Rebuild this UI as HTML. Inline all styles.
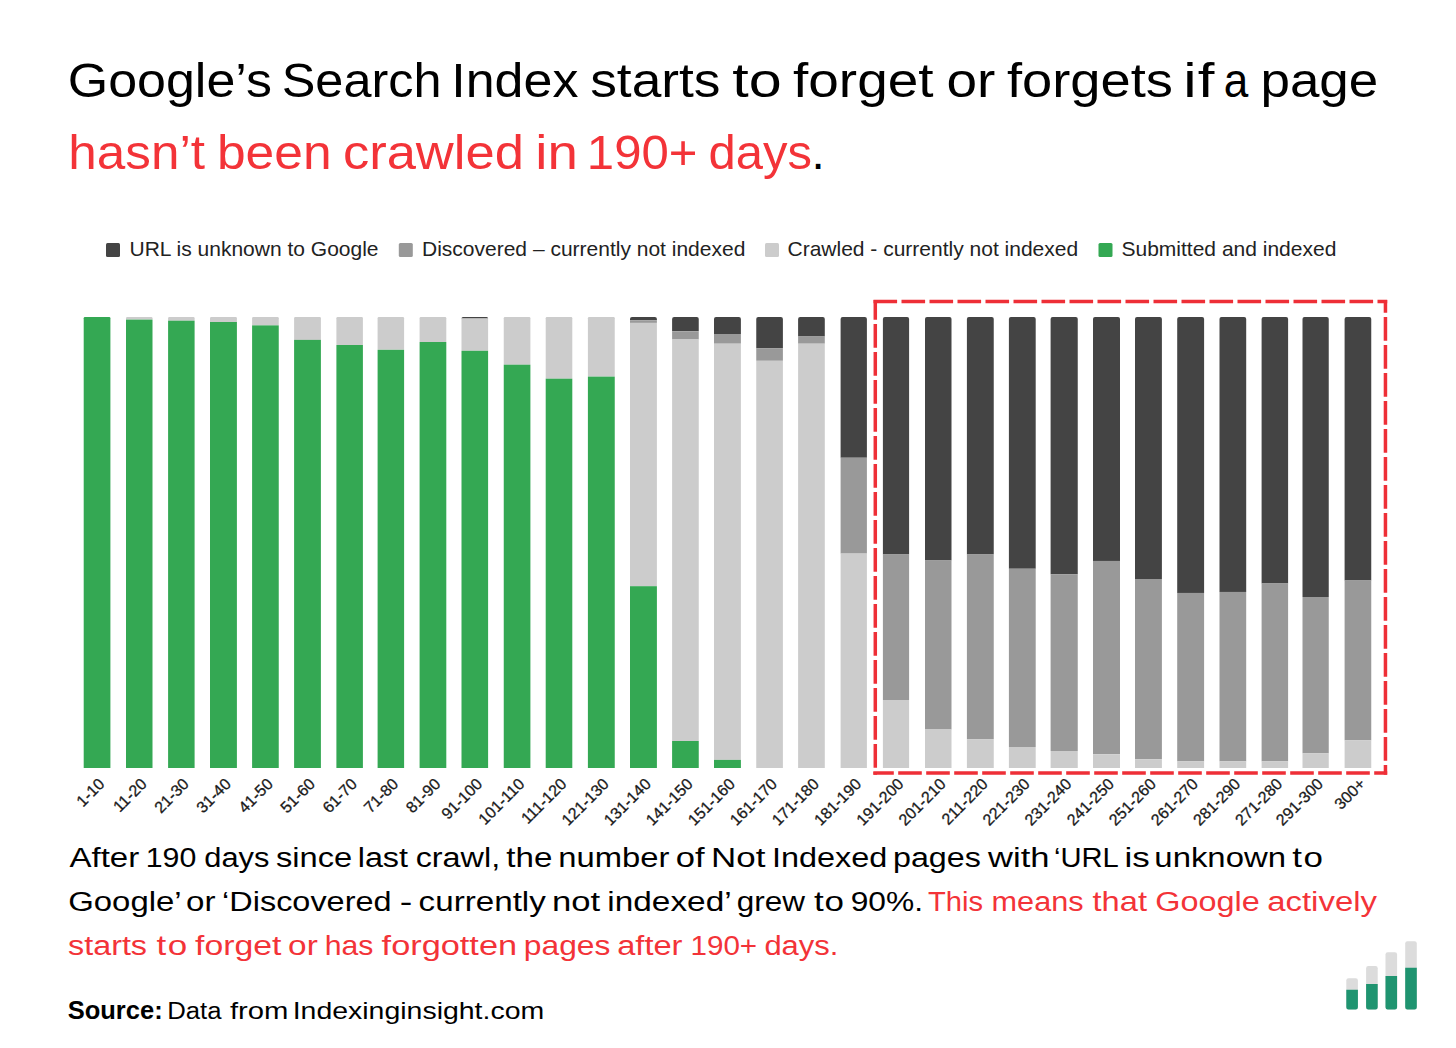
<!DOCTYPE html>
<html><head><meta charset="utf-8">
<style>
html,body{margin:0;padding:0;background:#fff;}
body{width:1456px;height:1048px;overflow:hidden;position:relative;}
svg{position:absolute;left:0;top:0;}
text{font-family:"Liberation Sans",Arial,sans-serif;}
</style></head><body>
<svg width="1456" height="1048" viewBox="0 0 1456 1048">
<g fill="#000">
<text transform="translate(67.73 0) scale(1.083 1)" x="0" y="97.2" font-size="48">Google’s</text>
<text transform="translate(281.70 0) scale(1.051 1)" x="0" y="97.2" font-size="48">Search</text>
<text transform="translate(451.27 0) scale(1.083 1)" x="0" y="97.2" font-size="48">Index</text>
<text transform="translate(590.18 0) scale(1.111 1)" x="0" y="97.2" font-size="48">starts</text>
<text transform="translate(732.36 0) scale(1.235 1)" x="0" y="97.2" font-size="48">to</text>
<text transform="translate(793.05 0) scale(1.145 1)" x="0" y="97.2" font-size="48">forget</text>
<text transform="translate(946.41 0) scale(1.145 1)" x="0" y="97.2" font-size="48">or</text>
<text transform="translate(1006.97 0) scale(1.131 1)" x="0" y="97.2" font-size="48">forgets</text>
<text transform="translate(1183.35 0) scale(1.250 1)" x="0" y="97.2" font-size="48" letter-spacing="0.76">if</text>
<text transform="translate(1223.86 0) scale(0.920 1)" x="0" y="97.2" font-size="48">a</text>
<text transform="translate(1260.49 0) scale(1.103 1)" x="0" y="97.2" font-size="48">page</text>
<text transform="translate(68.26 0) scale(1.079 1)" x="0" y="169" font-size="47.5" fill="#f33338">hasn’t</text>
<text transform="translate(216.94 0) scale(1.085 1)" x="0" y="169" font-size="47.5" fill="#f33338">been</text>
<text transform="translate(342.89 0) scale(1.106 1)" x="0" y="169" font-size="47.5" fill="#f33338">crawled</text>
<text transform="translate(535.35 0) scale(1.152 1)" x="0" y="169" font-size="47.5" fill="#f33338">in</text>
<text transform="translate(586.87 0) scale(1.034 1)" x="0" y="169" font-size="47.5" fill="#f33338">190+</text>
<text transform="translate(708.44 0) scale(1.031 1)" x="0" y="169" font-size="47.5" fill="#f33338">days</text>
<text x="811.5" y="169" font-size="47.5">.</text>
<text transform="translate(69.40 0) scale(1.181 1)" x="0" y="867" font-size="28">After</text>
<text transform="translate(145.63 0) scale(1.084 1)" x="0" y="867" font-size="28">190</text>
<text transform="translate(204.30 0) scale(1.102 1)" x="0" y="867" font-size="28">days</text>
<text transform="translate(275.93 0) scale(1.167 1)" x="0" y="867" font-size="28">since</text>
<text transform="translate(357.69 0) scale(1.156 1)" x="0" y="867" font-size="28">last</text>
<text transform="translate(415.64 0) scale(1.156 1)" x="0" y="867" font-size="28">crawl,</text>
<text transform="translate(506.30 0) scale(1.184 1)" x="0" y="867" font-size="28">the</text>
<text transform="translate(558.36 0) scale(1.170 1)" x="0" y="867" font-size="28">number</text>
<text transform="translate(675.76 0) scale(1.236 1)" x="0" y="867" font-size="28">of</text>
<text transform="translate(711.10 0) scale(1.249 1)" x="0" y="867" font-size="28">Not</text>
<text transform="translate(771.92 0) scale(1.159 1)" x="0" y="867" font-size="28">Indexed</text>
<text transform="translate(893.00 0) scale(1.152 1)" x="0" y="867" font-size="28">pages</text>
<text transform="translate(988.10 0) scale(1.235 1)" x="0" y="867" font-size="28">with</text>
<text transform="translate(1054.02 0) scale(1.042 1)" x="0" y="867" font-size="28">‘URL</text>
<text transform="translate(1124.50 0) scale(1.250 1)" x="0" y="867" font-size="28" letter-spacing="0.04">is</text>
<text transform="translate(1154.35 0) scale(1.175 1)" x="0" y="867" font-size="28">unknown</text>
<text transform="translate(1292.20 0) scale(1.250 1)" x="0" y="867" font-size="28" letter-spacing="1.36">to</text>
<text transform="translate(68.22 0) scale(1.176 1)" x="0" y="911" font-size="28">Google’</text>
<text transform="translate(186.12 0) scale(1.183 1)" x="0" y="911" font-size="28">or</text>
<text transform="translate(222.08 0) scale(1.159 1)" x="0" y="911" font-size="28">‘Discovered</text>
<text transform="translate(399.86 0) scale(1.343 1)" x="0" y="911" font-size="28">-</text>
<text transform="translate(418.62 0) scale(1.185 1)" x="0" y="911" font-size="28">currently</text>
<text transform="translate(552.02 0) scale(1.238 1)" x="0" y="911" font-size="28">not</text>
<text transform="translate(607.32 0) scale(1.192 1)" x="0" y="911" font-size="28">indexed’</text>
<text transform="translate(736.67 0) scale(1.125 1)" x="0" y="911" font-size="28">grew</text>
<text transform="translate(814.00 0) scale(1.250 1)" x="0" y="911" font-size="28" letter-spacing="0.72">to</text>
<text transform="translate(850.67 0) scale(1.133 1)" x="0" y="911" font-size="28">90%.</text>
<text transform="translate(927.96 0) scale(1.041 1)" x="0" y="911" font-size="28" fill="#f33338">This</text>
<text transform="translate(991.61 0) scale(1.094 1)" x="0" y="911" font-size="28" fill="#f33338">means</text>
<text transform="translate(1092.50 0) scale(1.166 1)" x="0" y="911" font-size="28" fill="#f33338">that</text>
<text transform="translate(1155.34 0) scale(1.157 1)" x="0" y="911" font-size="28" fill="#f33338">Google</text>
<text transform="translate(1267.22 0) scale(1.176 1)" x="0" y="911" font-size="28" fill="#f33338">actively</text>
<text transform="translate(68.05 0) scale(1.154 1)" x="0" y="955" font-size="28" fill="#f33338">starts</text>
<text transform="translate(156.60 0) scale(1.250 1)" x="0" y="955" font-size="28" fill="#f33338" letter-spacing="1.12">to</text>
<text transform="translate(195.00 0) scale(1.207 1)" x="0" y="955" font-size="28" fill="#f33338">forget</text>
<text transform="translate(288.11 0) scale(1.191 1)" x="0" y="955" font-size="28" fill="#f33338">or</text>
<text transform="translate(324.64 0) scale(1.079 1)" x="0" y="955" font-size="28" fill="#f33338">has</text>
<text transform="translate(381.60 0) scale(1.226 1)" x="0" y="955" font-size="28" fill="#f33338">forgotten</text>
<text transform="translate(523.83 0) scale(1.134 1)" x="0" y="955" font-size="28" fill="#f33338">pages</text>
<text transform="translate(617.23 0) scale(1.165 1)" x="0" y="955" font-size="28" fill="#f33338">after</text>
<text transform="translate(690.49 0) scale(1.057 1)" x="0" y="955" font-size="28" fill="#f33338">190+</text>
<text transform="translate(764.39 0) scale(1.106 1)" x="0" y="955" font-size="28" fill="#f33338">days.</text>
<text x="67.70" y="1019" font-size="25.5" font-weight="bold">Source:</text>
<text transform="translate(167.20 0) scale(1.050 1)" x="0" y="1019" font-size="24.5">Data</text>
<text transform="translate(230.00 0) scale(1.194 1)" x="0" y="1019" font-size="24.5">from</text>
<text transform="translate(292.68 0) scale(1.162 1)" x="0" y="1019" font-size="24.5">Indexinginsight.com</text>
</g>
<g font-size="21" fill="#222">
<rect x="106" y="243" width="14" height="14" rx="1.5" fill="#444444"/>
<text x="129.5" y="256.3">URL is unknown to Google</text>
<rect x="398.8" y="243" width="14" height="14" rx="1.5" fill="#999999"/>
<text x="422" y="256.3">Discovered – currently not indexed</text>
<rect x="765" y="243" width="14" height="14" rx="1.5" fill="#cccccc"/>
<text x="787.5" y="256.3">Crawled - currently not indexed</text>
<rect x="1098.5" y="243" width="14" height="14" rx="1.5" fill="#34a853"/>
<text x="1121.5" y="256.3">Submitted and indexed</text>
</g>
<g>
<path d="M83.70 768.00 V318.20 Q83.70 317.00 84.90 317.00 H109.20 Q110.40 317.00 110.40 318.20 V768.00 Z" fill="#34a853"/>
<path d="M126.00 319.60 V318.20 Q126.00 317.00 127.20 317.00 H151.30 Q152.50 317.00 152.50 318.20 V319.60 Z" fill="#cccccc"/>
<rect x="126.00" y="319.60" width="26.50" height="448.40" fill="#34a853"/>
<path d="M168.10 320.70 V318.20 Q168.10 317.00 169.30 317.00 H193.40 Q194.60 317.00 194.60 318.20 V320.70 Z" fill="#cccccc"/>
<rect x="168.10" y="320.70" width="26.50" height="447.30" fill="#34a853"/>
<path d="M210.00 322.00 V318.20 Q210.00 317.00 211.20 317.00 H235.70 Q236.90 317.00 236.90 318.20 V322.00 Z" fill="#cccccc"/>
<rect x="210.00" y="322.00" width="26.90" height="446.00" fill="#34a853"/>
<path d="M252.10 325.40 V318.20 Q252.10 317.00 253.30 317.00 H277.55 Q278.75 317.00 278.75 318.20 V325.40 Z" fill="#cccccc"/>
<rect x="252.10" y="325.40" width="26.65" height="442.60" fill="#34a853"/>
<path d="M294.10 339.90 V318.20 Q294.10 317.00 295.30 317.00 H319.70 Q320.90 317.00 320.90 318.20 V339.90 Z" fill="#cccccc"/>
<rect x="294.10" y="339.90" width="26.80" height="428.10" fill="#34a853"/>
<path d="M336.40 345.00 V318.20 Q336.40 317.00 337.60 317.00 H361.70 Q362.90 317.00 362.90 318.20 V345.00 Z" fill="#cccccc"/>
<rect x="336.40" y="345.00" width="26.50" height="423.00" fill="#34a853"/>
<path d="M377.60 349.80 V318.20 Q377.60 317.00 378.80 317.00 H402.90 Q404.10 317.00 404.10 318.20 V349.80 Z" fill="#cccccc"/>
<rect x="377.60" y="349.80" width="26.50" height="418.20" fill="#34a853"/>
<path d="M419.60 342.00 V318.20 Q419.60 317.00 420.80 317.00 H445.10 Q446.30 317.00 446.30 318.20 V342.00 Z" fill="#cccccc"/>
<rect x="419.60" y="342.00" width="26.70" height="426.00" fill="#34a853"/>
<path d="M461.50 318.50 V318.50 Q461.50 317.00 463.00 317.00 H486.60 Q488.10 317.00 488.10 318.50 V318.50 Z" fill="#444444"/>
<rect x="461.50" y="318.50" width="26.60" height="32.30" fill="#cccccc"/>
<rect x="461.50" y="350.80" width="26.60" height="417.20" fill="#34a853"/>
<path d="M503.75 364.70 V318.20 Q503.75 317.00 504.95 317.00 H529.20 Q530.40 317.00 530.40 318.20 V364.70 Z" fill="#cccccc"/>
<rect x="503.75" y="364.70" width="26.65" height="403.30" fill="#34a853"/>
<path d="M545.70 378.70 V318.20 Q545.70 317.00 546.90 317.00 H571.10 Q572.30 317.00 572.30 318.20 V378.70 Z" fill="#cccccc"/>
<rect x="545.70" y="378.70" width="26.60" height="389.30" fill="#34a853"/>
<path d="M587.90 376.60 V318.20 Q587.90 317.00 589.10 317.00 H613.55 Q614.75 317.00 614.75 318.20 V376.60 Z" fill="#cccccc"/>
<rect x="587.90" y="376.60" width="26.85" height="391.40" fill="#34a853"/>
<path d="M630.00 320.30 V319.00 Q630.00 317.00 632.00 317.00 H654.90 Q656.90 317.00 656.90 319.00 V320.30 Z" fill="#444444"/>
<rect x="630.00" y="320.30" width="26.90" height="2.60" fill="#999999"/>
<rect x="630.00" y="322.90" width="26.90" height="263.30" fill="#cccccc"/>
<rect x="630.00" y="586.20" width="26.90" height="181.80" fill="#34a853"/>
<path d="M672.10 331.30 V319.00 Q672.10 317.00 674.10 317.00 H696.75 Q698.75 317.00 698.75 319.00 V331.30 Z" fill="#444444"/>
<rect x="672.10" y="331.30" width="26.65" height="8.20" fill="#999999"/>
<rect x="672.10" y="339.50" width="26.65" height="401.50" fill="#cccccc"/>
<rect x="672.10" y="741.00" width="26.65" height="27.00" fill="#34a853"/>
<path d="M714.00 334.00 V319.00 Q714.00 317.00 716.00 317.00 H738.90 Q740.90 317.00 740.90 319.00 V334.00 Z" fill="#444444"/>
<rect x="714.00" y="334.00" width="26.90" height="9.70" fill="#999999"/>
<rect x="714.00" y="343.70" width="26.90" height="416.20" fill="#cccccc"/>
<rect x="714.00" y="759.90" width="26.90" height="8.10" fill="#34a853"/>
<path d="M756.25 348.20 V319.00 Q756.25 317.00 758.25 317.00 H780.90 Q782.90 317.00 782.90 319.00 V348.20 Z" fill="#444444"/>
<rect x="756.25" y="348.20" width="26.65" height="12.60" fill="#999999"/>
<rect x="756.25" y="360.80" width="26.65" height="407.20" fill="#cccccc"/>
<path d="M798.10 336.50 V319.00 Q798.10 317.00 800.10 317.00 H822.80 Q824.80 317.00 824.80 319.00 V336.50 Z" fill="#444444"/>
<rect x="798.10" y="336.50" width="26.70" height="7.20" fill="#999999"/>
<rect x="798.10" y="343.70" width="26.70" height="424.30" fill="#cccccc"/>
<path d="M840.60 457.70 V319.00 Q840.60 317.00 842.60 317.00 H864.90 Q866.90 317.00 866.90 319.00 V457.70 Z" fill="#444444"/>
<rect x="840.60" y="457.70" width="26.30" height="95.90" fill="#999999"/>
<rect x="840.60" y="553.60" width="26.30" height="214.40" fill="#cccccc"/>
<path d="M882.90 554.60 V319.00 Q882.90 317.00 884.90 317.00 H907.10 Q909.10 317.00 909.10 319.00 V554.60 Z" fill="#444444"/>
<rect x="882.90" y="554.60" width="26.20" height="145.40" fill="#999999"/>
<rect x="882.90" y="700.00" width="26.20" height="68.00" fill="#cccccc"/>
<path d="M925.00 560.60 V319.00 Q925.00 317.00 927.00 317.00 H949.50 Q951.50 317.00 951.50 319.00 V560.60 Z" fill="#444444"/>
<rect x="925.00" y="560.60" width="26.50" height="168.90" fill="#999999"/>
<rect x="925.00" y="729.50" width="26.50" height="38.50" fill="#cccccc"/>
<path d="M966.90 554.60 V319.00 Q966.90 317.00 968.90 317.00 H991.75 Q993.75 317.00 993.75 319.00 V554.60 Z" fill="#444444"/>
<rect x="966.90" y="554.60" width="26.85" height="184.50" fill="#999999"/>
<rect x="966.90" y="739.10" width="26.85" height="28.90" fill="#cccccc"/>
<path d="M1008.90 568.70 V319.00 Q1008.90 317.00 1010.90 317.00 H1033.70 Q1035.70 317.00 1035.70 319.00 V568.70 Z" fill="#444444"/>
<rect x="1008.90" y="568.70" width="26.80" height="178.30" fill="#999999"/>
<rect x="1008.90" y="747.00" width="26.80" height="21.00" fill="#cccccc"/>
<path d="M1050.60 574.20 V319.00 Q1050.60 317.00 1052.60 317.00 H1075.75 Q1077.75 317.00 1077.75 319.00 V574.20 Z" fill="#444444"/>
<rect x="1050.60" y="574.20" width="27.15" height="176.80" fill="#999999"/>
<rect x="1050.60" y="751.00" width="27.15" height="17.00" fill="#cccccc"/>
<path d="M1093.00 560.90 V319.00 Q1093.00 317.00 1095.00 317.00 H1118.00 Q1120.00 317.00 1120.00 319.00 V560.90 Z" fill="#444444"/>
<rect x="1093.00" y="560.90" width="27.00" height="193.40" fill="#999999"/>
<rect x="1093.00" y="754.30" width="27.00" height="13.70" fill="#cccccc"/>
<path d="M1135.00 579.00 V319.00 Q1135.00 317.00 1137.00 317.00 H1159.90 Q1161.90 317.00 1161.90 319.00 V579.00 Z" fill="#444444"/>
<rect x="1135.00" y="579.00" width="26.90" height="180.30" fill="#999999"/>
<rect x="1135.00" y="759.30" width="26.90" height="8.70" fill="#cccccc"/>
<path d="M1177.20 592.90 V319.00 Q1177.20 317.00 1179.20 317.00 H1202.10 Q1204.10 317.00 1204.10 319.00 V592.90 Z" fill="#444444"/>
<rect x="1177.20" y="592.90" width="26.90" height="168.50" fill="#999999"/>
<rect x="1177.20" y="761.40" width="26.90" height="6.60" fill="#cccccc"/>
<path d="M1219.50 591.90 V319.00 Q1219.50 317.00 1221.50 317.00 H1244.20 Q1246.20 317.00 1246.20 319.00 V591.90 Z" fill="#444444"/>
<rect x="1219.50" y="591.90" width="26.70" height="169.50" fill="#999999"/>
<rect x="1219.50" y="761.40" width="26.70" height="6.60" fill="#cccccc"/>
<path d="M1261.60 583.50 V319.00 Q1261.60 317.00 1263.60 317.00 H1286.10 Q1288.10 317.00 1288.10 319.00 V583.50 Z" fill="#444444"/>
<rect x="1261.60" y="583.50" width="26.50" height="177.90" fill="#999999"/>
<rect x="1261.60" y="761.40" width="26.50" height="6.60" fill="#cccccc"/>
<path d="M1302.50 597.00 V319.00 Q1302.50 317.00 1304.50 317.00 H1326.75 Q1328.75 317.00 1328.75 319.00 V597.00 Z" fill="#444444"/>
<rect x="1302.50" y="597.00" width="26.25" height="156.40" fill="#999999"/>
<rect x="1302.50" y="753.40" width="26.25" height="14.60" fill="#cccccc"/>
<path d="M1344.60 580.40 V319.00 Q1344.60 317.00 1346.60 317.00 H1369.25 Q1371.25 317.00 1371.25 319.00 V580.40 Z" fill="#444444"/>
<rect x="1344.60" y="580.40" width="26.65" height="160.00" fill="#999999"/>
<rect x="1344.60" y="740.40" width="26.65" height="27.60" fill="#cccccc"/>
</g>
<g stroke="#ee2f37" stroke-width="3.5" stroke-dasharray="23.6 4.4" fill="none">
<line x1="873.5" y1="301.55" x2="1387.2" y2="301.55" stroke-dashoffset="0"/>
<line x1="875.3" y1="300.0" x2="875.3" y2="774.8" stroke-dashoffset="3.9"/>
<line x1="1385.45" y1="300.0" x2="1385.45" y2="774.8" stroke-dashoffset="10.9"/>
<line x1="873.3" y1="773.0" x2="1387.2" y2="773.0" stroke-dashoffset="3.1"/>
</g>
<g font-size="16" fill="#1a1a1a" stroke="#1a1a1a" stroke-width="0.3">
<text x="105.55" y="785.00" transform="rotate(-45 105.55 785.00)" text-anchor="end">1-10</text>
<text x="147.75" y="785.00" transform="rotate(-45 147.75 785.00)" text-anchor="end">11-20</text>
<text x="189.85" y="785.00" transform="rotate(-45 189.85 785.00)" text-anchor="end">21-30</text>
<text x="231.95" y="785.00" transform="rotate(-45 231.95 785.00)" text-anchor="end">31-40</text>
<text x="273.93" y="785.00" transform="rotate(-45 273.93 785.00)" text-anchor="end">41-50</text>
<text x="316.00" y="785.00" transform="rotate(-45 316.00 785.00)" text-anchor="end">51-60</text>
<text x="358.15" y="785.00" transform="rotate(-45 358.15 785.00)" text-anchor="end">61-70</text>
<text x="399.35" y="785.00" transform="rotate(-45 399.35 785.00)" text-anchor="end">71-80</text>
<text x="441.45" y="785.00" transform="rotate(-45 441.45 785.00)" text-anchor="end">81-90</text>
<text x="483.30" y="785.00" transform="rotate(-45 483.30 785.00)" text-anchor="end">91-100</text>
<text x="525.58" y="785.00" transform="rotate(-45 525.58 785.00)" text-anchor="end">101-110</text>
<text x="567.50" y="785.00" transform="rotate(-45 567.50 785.00)" text-anchor="end">111-120</text>
<text x="609.83" y="785.00" transform="rotate(-45 609.83 785.00)" text-anchor="end">121-130</text>
<text x="651.95" y="785.00" transform="rotate(-45 651.95 785.00)" text-anchor="end">131-140</text>
<text x="693.92" y="785.00" transform="rotate(-45 693.92 785.00)" text-anchor="end">141-150</text>
<text x="735.95" y="785.00" transform="rotate(-45 735.95 785.00)" text-anchor="end">151-160</text>
<text x="778.08" y="785.00" transform="rotate(-45 778.08 785.00)" text-anchor="end">161-170</text>
<text x="819.95" y="785.00" transform="rotate(-45 819.95 785.00)" text-anchor="end">171-180</text>
<text x="862.25" y="785.00" transform="rotate(-45 862.25 785.00)" text-anchor="end">181-190</text>
<text x="904.50" y="785.00" transform="rotate(-45 904.50 785.00)" text-anchor="end">191-200</text>
<text x="946.75" y="785.00" transform="rotate(-45 946.75 785.00)" text-anchor="end">201-210</text>
<text x="988.83" y="785.00" transform="rotate(-45 988.83 785.00)" text-anchor="end">211-220</text>
<text x="1030.80" y="785.00" transform="rotate(-45 1030.80 785.00)" text-anchor="end">221-230</text>
<text x="1072.67" y="785.00" transform="rotate(-45 1072.67 785.00)" text-anchor="end">231-240</text>
<text x="1115.00" y="785.00" transform="rotate(-45 1115.00 785.00)" text-anchor="end">241-250</text>
<text x="1156.95" y="785.00" transform="rotate(-45 1156.95 785.00)" text-anchor="end">251-260</text>
<text x="1199.15" y="785.00" transform="rotate(-45 1199.15 785.00)" text-anchor="end">261-270</text>
<text x="1241.35" y="785.00" transform="rotate(-45 1241.35 785.00)" text-anchor="end">281-290</text>
<text x="1283.35" y="785.00" transform="rotate(-45 1283.35 785.00)" text-anchor="end">271-280</text>
<text x="1324.12" y="785.00" transform="rotate(-45 1324.12 785.00)" text-anchor="end">291-300</text>
<text x="1366.42" y="785.00" transform="rotate(-45 1366.42 785.00)" text-anchor="end">300+</text>
</g>


<g>
<rect x="1346.3" y="978.3" width="11.6" height="31.2" rx="2.2" fill="#dcdcdc"/>
<rect x="1366.1" y="966.1" width="11.6" height="43.4" rx="2.2" fill="#dcdcdc"/>
<rect x="1385.5" y="952.3" width="11.6" height="57.2" rx="2.2" fill="#dcdcdc"/>
<rect x="1405.2" y="941.2" width="11.6" height="68.3" rx="2.2" fill="#dcdcdc"/>
<path d="M1346.3 989.7 h11.6 v17.6 a2.2 2.2 0 0 1 -2.2 2.2 h-7.2 a2.2 2.2 0 0 1 -2.2 -2.2 z" fill="#1f9470"/>
<path d="M1366.1 984 h11.6 v23.3 a2.2 2.2 0 0 1 -2.2 2.2 h-7.2 a2.2 2.2 0 0 1 -2.2 -2.2 z" fill="#1f9470"/>
<path d="M1385.5 976 h11.6 v31.3 a2.2 2.2 0 0 1 -2.2 2.2 h-7.2 a2.2 2.2 0 0 1 -2.2 -2.2 z" fill="#1f9470"/>
<path d="M1405.2 967.8 h11.6 v39.5 a2.2 2.2 0 0 1 -2.2 2.2 h-7.2 a2.2 2.2 0 0 1 -2.2 -2.2 z" fill="#1f9470"/>
</g>
</svg>
</body></html>
